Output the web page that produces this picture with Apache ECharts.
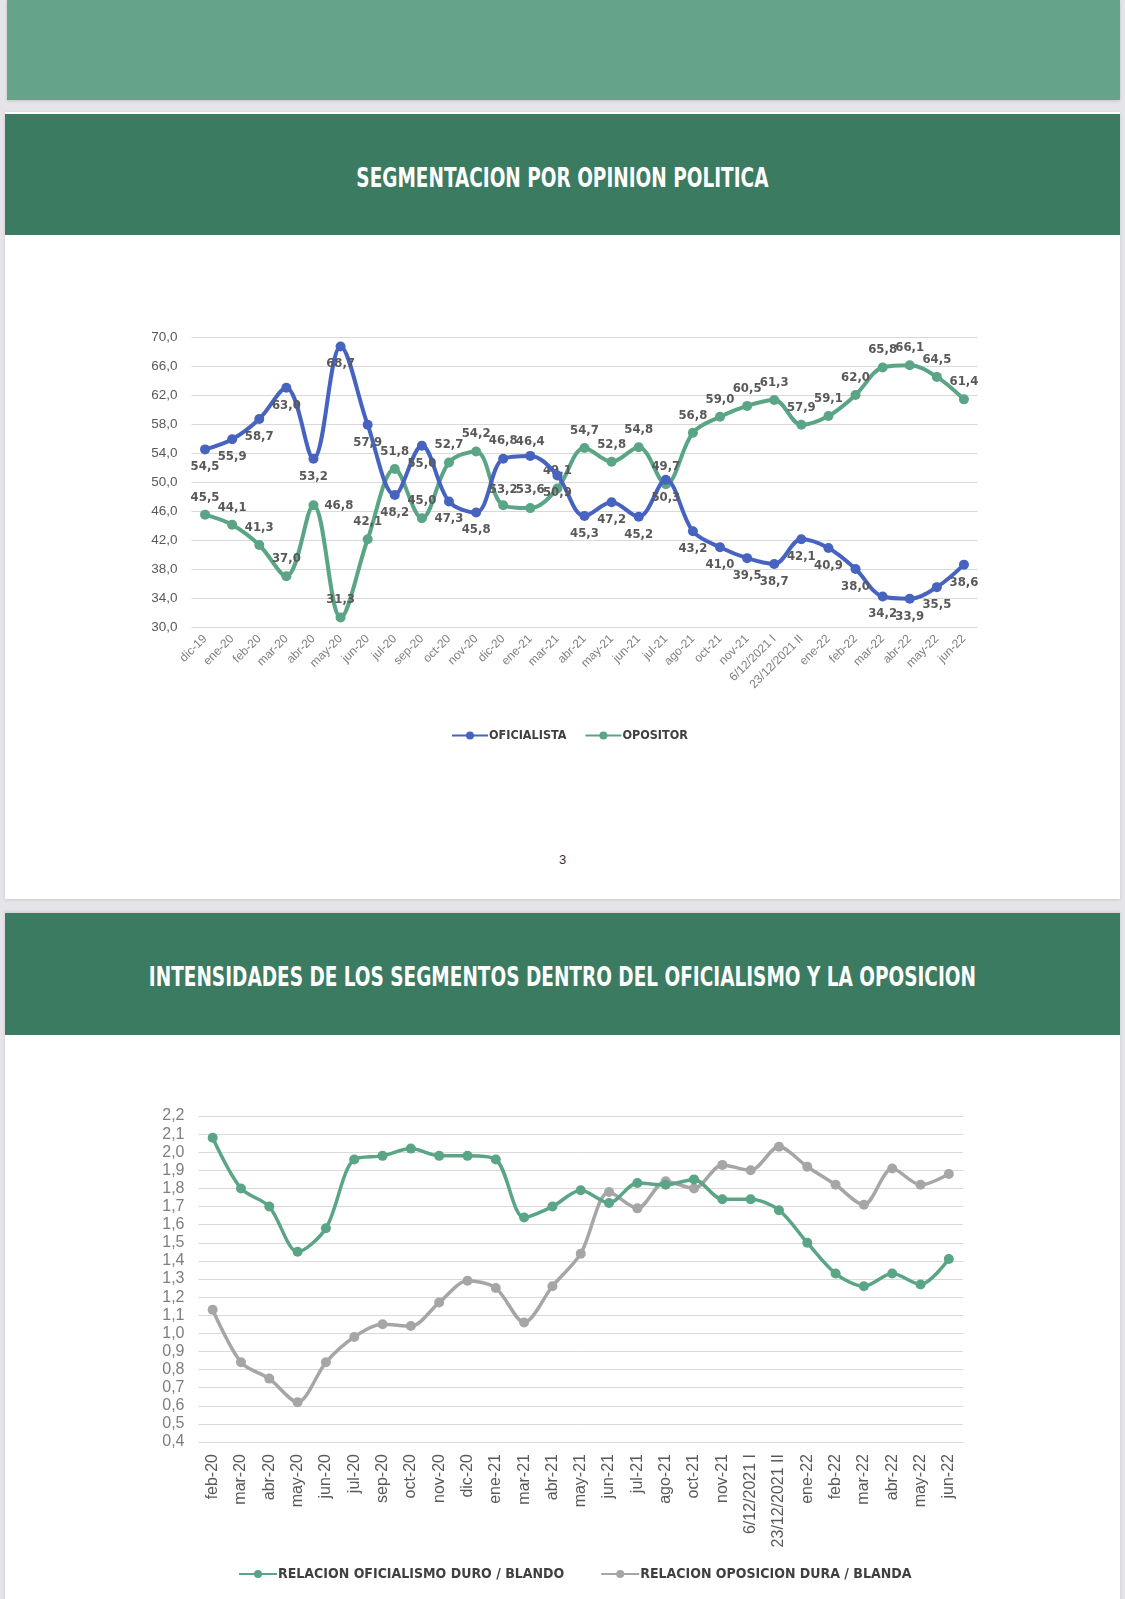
<!DOCTYPE html>
<html>
<head>
<meta charset="utf-8">
<script src="https://cdn.jsdelivr.net/npm/echarts@6/dist/echarts.min.js"></script>
<style>
  html, body { margin:0; padding:0; }
  body { width:1125px; height:1599px; background:#e5e4e9; position:relative; overflow:hidden;
         font-family:'Liberation Sans Narrow','DejaVu Sans Condensed','Roboto',sans-serif; }
  .band { position:absolute; }
  .title { position:absolute; left:5px; width:1115px; text-align:center; color:#ffffff;
           font-weight:bold; font-size:26px; line-height:30px; transform:scaleX(0.79); transform-origin:562px 0; }
  #chart { position:absolute; left:0; top:0; width:1125px; height:1599px; }
</style>
</head>
<body>
<div class="band" style="left:7px;top:0;width:1113px;height:100px;background:#65a48b;box-shadow:0 1px 3px rgba(0,0,0,0.15);"></div>
<div class="band" style="left:5px;top:112px;width:1115px;height:787px;background:#ffffff;box-shadow:0 1px 3px rgba(0,0,0,0.12);"></div>
<div class="band" style="left:5px;top:114px;width:1115px;height:121px;background:#3b7b61;"></div>
<div class="title" style="left:0;width:1125px;top:163px;">SEGMENTACION POR OPINION POLITICA</div>
<div class="band" style="left:5px;top:852px;width:1115px;text-align:center;font-size:13px;color:#333;font-family:'Liberation Sans','DejaVu Sans',sans-serif;">3</div>
<div class="band" style="left:5px;top:913px;width:1115px;height:700px;background:#ffffff;box-shadow:0 -1px 3px rgba(0,0,0,0.12);"></div>
<div class="band" style="left:5px;top:913px;width:1115px;height:122px;background:#3b7b61;"></div>
<div class="title" style="left:0;width:1125px;top:962px;">INTENSIDADES DE LOS SEGMENTOS DENTRO DEL OFICIALISMO Y LA OPOSICION</div>
<div id="chart"></div>
<script>
// ---------- Chart 1 data ----------
const cats1 = ['dic-19','ene-20','feb-20','mar-20','abr-20','may-20','jun-20','jul-20','sep-20','oct-20','nov-20','dic-20','ene-21','mar-21','abr-21','may-21','jun-21','jul-21','ago-21','oct-21','nov-21','6/12/2021 I','23/12/2021 II','ene-22','feb-22','mar-22','abr-22','may-22','jun-22'];
const oficialista = [54.5,55.9,58.7,63.0,53.2,68.7,57.9,48.2,55.0,47.3,45.8,53.2,53.6,50.9,45.3,47.2,45.2,50.3,43.2,41.0,39.5,38.7,42.1,40.9,38.0,34.2,33.9,35.5,38.6];
const opositor    = [45.5,44.1,41.3,37.0,46.8,31.3,42.1,51.8,45.0,52.7,54.2,46.8,46.4,49.1,54.7,52.8,54.8,49.7,56.8,59.0,60.5,61.3,57.9,59.1,62.0,65.8,66.1,64.5,61.4];
const yTicks1 = { min:30, max:70, interval:4 };

// ---------- Chart 2 data ----------
const cats2 = ['feb-20','mar-20','abr-20','may-20','jun-20','jul-20','sep-20','oct-20','nov-20','dic-20','ene-21','mar-21','abr-21','may-21','jun-21','jul-21','ago-21','oct-21','nov-21','6/12/2021 I','23/12/2021 II','ene-22','feb-22','mar-22','abr-22','may-22','jun-22'];
const oficialismoDuroBlando = [2.08,1.80,1.70,1.45,1.58,1.96,1.98,2.02,1.98,1.98,1.96,1.64,1.70,1.79,1.72,1.83,1.82,1.85,1.74,1.74,1.68,1.50,1.33,1.26,1.33,1.27,1.41];
const oposicionDuraBlanda   = [1.13,0.84,0.75,0.62,0.84,0.98,1.05,1.04,1.17,1.29,1.25,1.06,1.26,1.44,1.78,1.69,1.84,1.80,1.93,1.90,2.03,1.92,1.82,1.71,1.91,1.82,1.88];
const yTicks2 = { min:0.4, max:2.2, interval:0.1 };

// ---------- style ----------
const BLUE = '#4663c0', GREEN = '#5aa585', GRAY = '#a6a6a6';
const NARROW = "'Liberation Sans Narrow','DejaVu Sans Condensed','Roboto',sans-serif";
const REG = "'Liberation Sans','Arial','DejaVu Sans',sans-serif";
const fmt1 = v => Number(v).toFixed(1).replace('.', ',');
// label placement tweaks (style only)
const ofiOffsets = {11:[0,13], 12:[0,16]};
const opoOffsets = {11:[0,-47], 12:[0,-49]};
const opoPositions = {4:'right'};

function items(values, basePos, offsets, positions) {
  return values.map((v, i) => {
    const lab = { position: positions && positions[i] ? positions[i] : basePos };
    if (offsets && offsets[i]) lab.offset = offsets[i];
    return { value: v, label: lab };
  });
}

const labelStyle = { show:true, fontFamily:NARROW, fontSize:13, fontWeight:'bold', color:'#595959', distance:6,
                     formatter: p => fmt1(p.value) };

const chart = echarts.init(document.getElementById('chart'), null, { renderer:'canvas' });
chart.setOption({
  backgroundColor:'transparent',
  animation:false,
  grid:[
    { left:191.5, top:337, width:786, height:290 },
    { left:198.5, top:1116, width:764.5, height:326 }
  ],
  legend:[
    { left:446, top:724, itemWidth:36, itemHeight:10, itemGap:18,
      textStyle:{ fontFamily:NARROW, fontSize:12.5, fontWeight:'bold', color:'#404040', padding:[0,0,0,-4] },
      data:['OFICIALISTA','OPOSITOR'] },
    { left:233, top:1562, itemWidth:38, itemHeight:10, itemGap:36,
      textStyle:{ fontFamily:NARROW, fontSize:14, fontWeight:'bold', color:'#404040', padding:[0,0,0,-4] },
      data:['RELACION OFICIALISMO DURO / BLANDO','RELACION OPOSICION DURA / BLANDA'] }
  ],
  xAxis:[
    { type:'category', gridIndex:0, data:cats1, boundaryGap:true,
      axisLine:{ show:false }, axisTick:{ show:false },
      axisLabel:{ rotate:45, interval:0, margin:10, fontFamily:REG, fontSize:12, color:'#7f7f7f' } },
    { type:'category', gridIndex:1, data:cats2, boundaryGap:true,
      axisLine:{ show:false }, axisTick:{ show:false },
      axisLabel:{ rotate:90, interval:0, margin:12, fontFamily:REG, fontSize:16, color:'#595959' } }
  ],
  yAxis:[
    { type:'value', gridIndex:0, min:yTicks1.min, max:yTicks1.max, interval:yTicks1.interval,
      axisLine:{ show:false }, axisTick:{ show:false },
      splitLine:{ lineStyle:{ color:'#d9d9d9', width:1 } },
      axisLabel:{ margin:14, fontFamily:REG, fontSize:13.5, color:'#595959', formatter: v => fmt1(v) } },
    { type:'value', gridIndex:1, min:yTicks2.min, max:yTicks2.max, interval:yTicks2.interval,
      axisLine:{ show:false }, axisTick:{ show:false },
      splitLine:{ lineStyle:{ color:'#d9d9d9', width:1 } },
      axisLabel:{ margin:14, fontFamily:REG, fontSize:16, color:'#7f7f7f', formatter: v => fmt1(v) } }
  ],
  series:[
    { name:'OFICIALISTA', type:'line', xAxisIndex:0, yAxisIndex:0, smooth:0.35,
      symbol:'circle', symbolSize:10, lineStyle:{ width:4, color:BLUE }, itemStyle:{ color:BLUE },
      label: labelStyle, data: items(oficialista, 'bottom', ofiOffsets, null), z:3 },
    { name:'OPOSITOR', type:'line', xAxisIndex:0, yAxisIndex:0, smooth:0.35,
      symbol:'circle', symbolSize:10, lineStyle:{ width:4, color:GREEN }, itemStyle:{ color:GREEN },
      label: labelStyle, data: items(opositor, 'top', opoOffsets, opoPositions), z:2 },
    { name:'RELACION OFICIALISMO DURO / BLANDO', type:'line', xAxisIndex:1, yAxisIndex:1, smooth:0.3,
      symbol:'circle', symbolSize:10, lineStyle:{ width:3.5, color:GREEN }, itemStyle:{ color:GREEN },
      data: oficialismoDuroBlando, z:3 },
    { name:'RELACION OPOSICION DURA / BLANDA', type:'line', xAxisIndex:1, yAxisIndex:1, smooth:0.3,
      symbol:'circle', symbolSize:10, lineStyle:{ width:3.5, color:GRAY }, itemStyle:{ color:GRAY },
      data: oposicionDuraBlanda, z:2 }
  ]
});
</script>
</body>
</html>
